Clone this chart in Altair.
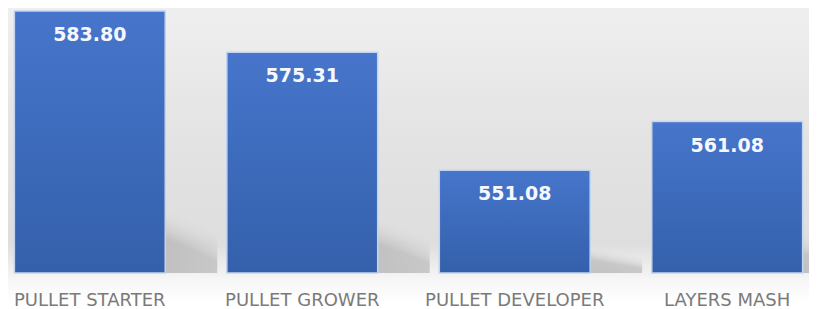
import altair as alt
import pandas as pd

categories = ["PULLET STARTER", "PULLET GROWER", "PULLET DEVELOPER", "LAYERS MASH"]
values = [583.80, 575.31, 551.08, 561.08]
labels = ["583.80", "575.31", "551.08", "561.08"]

df = pd.DataFrame({"cat": categories, "val": values, "lab": labels})

W, H = 801, 265
BASE = 530

x = alt.X("cat:N", sort=categories,
          scale=alt.Scale(paddingInner=0.29, paddingOuter=0.03),
          axis=alt.Axis(title=None, labelAngle=0, domain=False, ticks=False,
                        labelFont="DejaVu Sans", labelFontSize=18, labelColor="#7a7a7a",
                        labelPadding=18, zindex=2))
yscale = alt.Scale(domain=[BASE, 584.4], zero=False, nice=False, clamp=True)
y = alt.Y("val:Q", scale=yscale, axis=None)

bg = alt.Chart(df).mark_rect(
    color=alt.Gradient(
        gradient="linear", x1=0, y1=0, x2=0, y2=1,
        stops=[
            alt.GradientStop(offset=0, color="#efefef"),
            alt.GradientStop(offset=0.45, color="#e3e3e3"),
            alt.GradientStop(offset=0.8, color="#dedede"),
            alt.GradientStop(offset=0.92, color="#f6f6f6"),
            alt.GradientStop(offset=1, color="#ffffff"),
        ]),
    clip=False,
).encode(x=alt.value(0), x2=alt.value(W), y=alt.value(0), y2=alt.value(295))

shadow = alt.Chart(df).transform_calculate(
    stop=f"{BASE} + (datum.val - {BASE}) * 0.26", base=f"{BASE}"
).mark_bar(
    xOffset=52, clip=True,
    color=alt.Gradient(
        gradient="linear", x1=0, y1=1, x2=1, y2=0,
        stops=[
            alt.GradientStop(offset=0, color="rgba(150,150,150,0.7)"),
            alt.GradientStop(offset=0.58, color="rgba(165,165,165,0.5)"),
            alt.GradientStop(offset=0.82, color="rgba(222,222,222,0)"),
            alt.GradientStop(offset=1, color="rgba(222,222,222,0)"),
        ]),
).encode(x=x, y=alt.Y("stop:Q", scale=yscale, axis=None), y2="base:Q")

bars = alt.Chart(df).mark_bar(
    color=alt.Gradient(
        gradient="linear", x1=0, y1=0, x2=0, y2=1,
        stops=[
            alt.GradientStop(offset=0, color="#4675cb"),
            alt.GradientStop(offset=1, color="#3460ab"),
        ]),
    stroke="#c3d4ee", strokeWidth=1.5,
).encode(x=x, y=y)

text = alt.Chart(df).mark_text(
    color="#f6f8ff", font="DejaVu Sans", fontWeight="bold", fontSize=19,
    baseline="middle", dy=24,
).encode(x=x, y=y, text="lab:N")

chart = alt.layer(bg, shadow, bars, text).properties(
    width=W, height=H, padding=0, background="white"
).configure_view(stroke=None)

chart.save("out.html", embed_options={"renderer": "svg", "actions": False})
